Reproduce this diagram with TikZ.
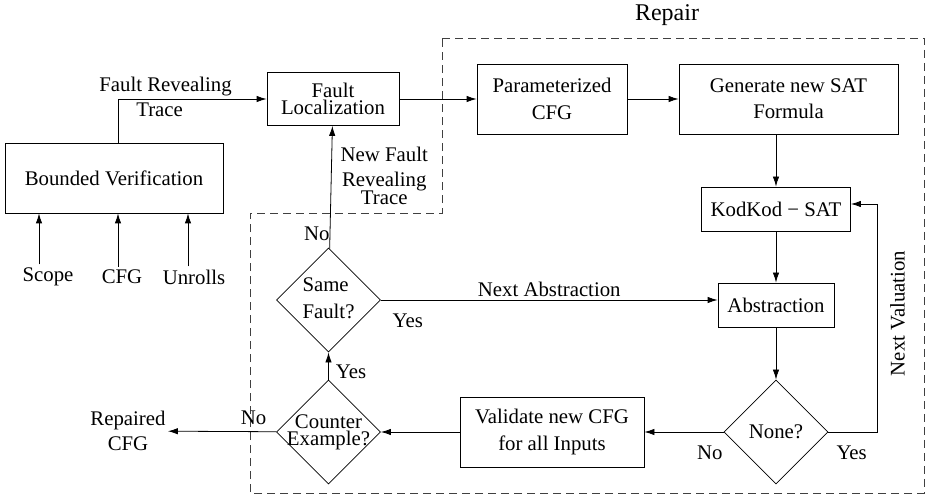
\documentclass[tikz,border=0pt]{standalone}
\usepackage{fontspec}
\setmainfont{Liberation Serif}
\usetikzlibrary{shapes.geometric,arrows.meta}

\begin{document}
\fontsize{10.4}{13}\selectfont
\begin{tikzpicture}[x=0.5pt,y=-0.5pt,
  every node/.style={font=\rmfamily,inner sep=1.5pt},
  box/.style={draw,rectangle,align=center},
  dia/.style={draw,diamond,inner sep=0pt,minimum width=52pt,minimum height=52pt},
  arr/.style={-{Latex[length=5pt,width=3.2pt]}},
  repairline/.style={dash pattern=on 4pt off 2.5pt,black!75}]
\useasboundingbox (0,0) rectangle (932,497);

% repair region
\draw[repairline] (442,38) -- (924,38) -- (924,493) -- (250,493) -- (250,213) -- (442,213) -- cycle;
\node[font=\rmfamily\fontsize{12}{14}\selectfont] (rlabel) at (667,15) {Repair};

% inputs
\node[box,minimum width=109pt,minimum height=35pt] (bv) at (114,178) {Bounded Verification};
\node[] (scope) at (48,277) {Scope};
\node[] (cfg) at (122,277) {CFG};
\node[] (unrolls) at (194,277) {Unrolls};

\draw[arr] ([xshift=-4.5pt]scope.north) -- ([xshift=-4.5pt]scope.north |- bv.south);
\draw[arr] ([xshift=-2pt]cfg.north) -- ([xshift=-2pt]cfg.north |- bv.south);
\draw[arr] ([xshift=-3pt]unrolls.north) -- ([xshift=-3pt]unrolls.north |- bv.south);

% top row
\node[box,minimum width=66pt,minimum height=26.5pt] (fl) at (333,99) {Fault\\[-4.5pt]Localization};
\node[box,minimum width=75pt,minimum height=35pt] (pcfg) at (552,99) {Parameterized\\[0.5pt]CFG};
\node[box,minimum width=109.5pt,minimum height=35pt] (gen) at (788.5,99) {Generate new SAT\\Formula};

\draw[arr] ([xshift=2pt]bv.north) |- node[pos=0.66,above] (frt1) {Fault Revealing} node[pos=0.64,below] (frt2) {Trace} (fl.west);
\draw[arr] (fl) -- (pcfg);
\draw[arr] (pcfg) -- (gen);

% right column
\node[box,minimum width=74.5pt,minimum height=22pt] (kod) at (776,209) {KodKod − SAT};
\node[box,minimum width=58pt,minimum height=22pt] (abs) at (776,305) {Abstraction};
\node[dia] (none) at (776,432) {None?};

\draw[arr] (gen.south -| kod) -- (kod);
\draw[arr] (kod) -- (abs);
\draw[arr] (abs) -- (none);
\draw[arr] (none.east) -| node[pos=0.24,below=5pt] (nyes) {Yes}
  node[pos=0.76,sloped,below=5pt] (nval) {Next Valuation} ([xshift=13pt,yshift=2.5pt]kod.east) -- ([yshift=2.5pt]kod.east);

% bottom row
\node[box,minimum width=92pt,minimum height=35pt] (val) at (552,432) {Validate new CFG\\[0.5pt]for all Inputs};
\node[dia] (ce) at (328.5,432) {\makebox[0pt]{\begin{tabular}{@{}c@{}}Counter\\[-4.7pt]Example?\end{tabular}}};
\node[dia] (sf) at (328.5,300) {\makebox[0pt]{\begin{tabular}{@{}l@{}}Same\\[0.5pt]Fault?\end{tabular}}};
\node[align=center,inner sep=1pt] (rep) at (128,431) {Repaired\\[-0.5pt]CFG};

\draw[arr] (none) -- node[pos=0.175,below=5pt] (nno) {No} (val);
\draw[arr] (val) -- (ce);
\draw[arr] (ce) -- node[pos=0.21,above=2pt] (cno) {No} (rep);
\draw[arr] (ce) -- node[pos=0.3,right=2pt] (cyes) {Yes} (sf);
\draw[arr] (sf.east) -- node[pos=0.08,below=5pt] (syes) {Yes} node[midway,above] (nabs) {Next Abstraction} (sf.east -| abs.west);
\draw[arr] (sf) -- node[pos=0.12,left,inner sep=0pt] (sno) {No}
  node[pos=0.59,right=3pt,align=center] (nfrt) {New Fault\\[-0.5pt]Revealing\\[-4pt]Trace} (fl);

\end{tikzpicture}
\end{document}
